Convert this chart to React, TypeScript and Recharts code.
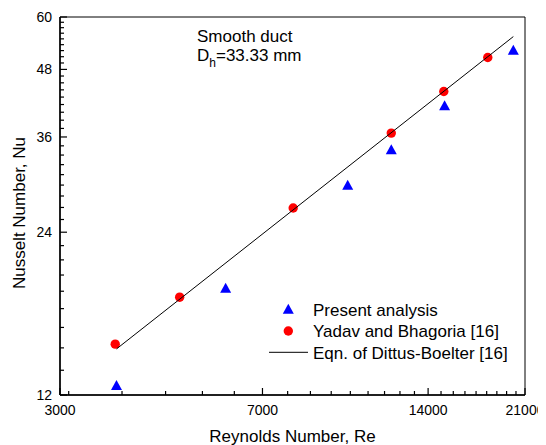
import React from 'react'
import { ComposedChart, Scatter, XAxis, YAxis, ReferenceArea } from 'recharts'

const FONT = "Arial, 'Liberation Sans', Helvetica, sans-serif"

/* ── Data ── */
const presentRe = [3800, 6000, 10000, 12000, 15000, 20000]
const presentNu = [12.5, 18.9, 29.3, 34.1, 41.1, 52.1]

const yadavRe = [3780, 4950, 7960, 12000, 14950, 17970]
const yadavNu = [14.9, 18.2, 26.6, 36.6, 43.7, 50.5]

const dittusRe = [3800, 20000]
const dittusNu = [14.6, 55.2]

const xMajor = [3000, 7000, 14000, 21000]
const yMajor = [12, 24, 36, 48, 60]

/* Origin-style minor ticks: 8 between majors, linear step */
const round = (v: number) => Math.round(v * 1e6) / 1e6
const xTicks = [3000, ...Array.from({ length: 24 }, (_, i) => round(((i + 4) * 7000) / 9))]
const yTicks = Array.from({ length: 37 }, (_, i) => round(((i + 9) * 4) / 3))

const toPoints = (re: number[], nu: number[]) => re.map((r, i) => ({ re: r, nu: nu[i] }))
const present = toPoints(presentRe, presentNu)
const yadav = toPoints(yadavRe, yadavNu)
const dittus = toPoints(dittusRe, dittusNu)

const isMajor = (v: number, majors: number[]) => majors.some(m => Math.abs(m - v) < 1e-3)

/* ── Ticks ── */
const XTick = ({ x, y, payload }: any) => {
  const major = isMajor(payload.value, xMajor)
  return (
    <g>
      <line x1={x} x2={x} y1={y} y2={y - (major ? 7 : 4)} stroke="#000" strokeWidth={1.2} />
      {major && (
        <text x={x} y={y + 19.5} textAnchor="middle" fontSize={14} fontFamily={FONT} fill="#000">
          {payload.value}
        </text>
      )}
    </g>
  )
}

const YTick = ({ x, y, payload }: any) => {
  const major = isMajor(payload.value, yMajor)
  return (
    <g>
      <line x1={x} x2={x + (major ? 7 : 4)} y1={y} y2={y} stroke="#000" strokeWidth={1.2} />
      {major && (
        <text x={x - 8} y={y + 5} textAnchor="end" fontSize={14} fontFamily={FONT} fill="#000">
          {Math.round(payload.value)}
        </text>
      )}
    </g>
  )
}

/* ── Markers ── */
const Triangle = ({ cx, cy }: any) => (
  <path d={`M${cx},${cy - 5.5} L${cx + 5.5},${cy + 4.5} L${cx - 5.5},${cy + 4.5} Z`} fill="#0000ff" />
)
const Dot = ({ cx, cy }: any) => <circle cx={cx} cy={cy} r={4.7} fill="#ff0000" />
const NoMark = () => <g />

export default function App() {
  return (
    <div style={{ position: 'relative', width: 546, height: 445, margin: '-8px 0 0 -8px', background: '#fff' }}>
      <ComposedChart width={546} height={445} margin={{ top: 17, right: 21, bottom: 0, left: 0 }}>
        <XAxis
          type="number"
          dataKey="re"
          scale="log"
          domain={[3000, 21000]}
          allowDataOverflow
          ticks={xTicks}
          interval={0}
          tick={<XTick />}
          tickLine={false}
          tickSize={0}
          tickMargin={0}
          axisLine={{ stroke: '#000', strokeWidth: 1.5 }}
          height={50}
        />
        <YAxis
          type="number"
          dataKey="nu"
          scale="log"
          domain={[12, 60]}
          allowDataOverflow
          ticks={yTicks}
          interval={0}
          tick={<YTick />}
          tickLine={false}
          tickSize={0}
          tickMargin={0}
          axisLine={{ stroke: '#000', strokeWidth: 1.5 }}
          width={60}
        />
        <ReferenceArea x1={3000} x2={21000} y1={12} y2={60} fill="none" stroke="#000" strokeWidth={1} />
        <Scatter name="Present analysis" data={present} shape={<Triangle />} isAnimationActive={false} />
        <Scatter name="Yadav and Bhagoria [16]" data={yadav} shape={<Dot />} isAnimationActive={false} />
        <Scatter
          name="Eqn. of Dittus-Boelter [16]"
          data={dittus}
          line={{ stroke: '#000', strokeWidth: 1 }}
          shape={<NoMark />}
          isAnimationActive={false}
        />
      </ComposedChart>

      {/* annotation, legend and axis titles */}
      <svg
        width={546}
        height={445}
        style={{ position: 'absolute', left: 0, top: 0, pointerEvents: 'none' }}
        fontFamily={FONT}
        fill="#000"
      >
        <text x={197} y={41.5} fontSize={17}>Smooth duct</text>
        <text x={197} y={60.5} fontSize={17}>
          D<tspan fontSize={12} dy={6}>h</tspan>
          <tspan dy={-6}>=33.33 mm</tspan>
        </text>

        <path d="M288.3,303.8 L293.8,313.8 L282.8,313.8 Z" fill="#0000ff" />
        <text x={313} y={315.7} fontSize={17}>Present analysis</text>
        <circle cx={288.3} cy={331} r={4.7} fill="#ff0000" />
        <text x={313} y={337.3} fontSize={17}>Yadav and Bhagoria [16]</text>
        <line x1={269} x2={308} y1={352.3} y2={352.3} stroke="#000" strokeWidth={1} />
        <text x={313} y={358.7} fontSize={17}>Eqn. of Dittus-Boelter [16]</text>

        <text x={292.5} y={442} fontSize={17} textAnchor="middle">Reynolds Number, Re</text>
        <text x={25} y={213} fontSize={17} textAnchor="middle" transform="rotate(-90, 25, 213)">
          Nusselt Number, Nu
        </text>
      </svg>
    </div>
  )
}
